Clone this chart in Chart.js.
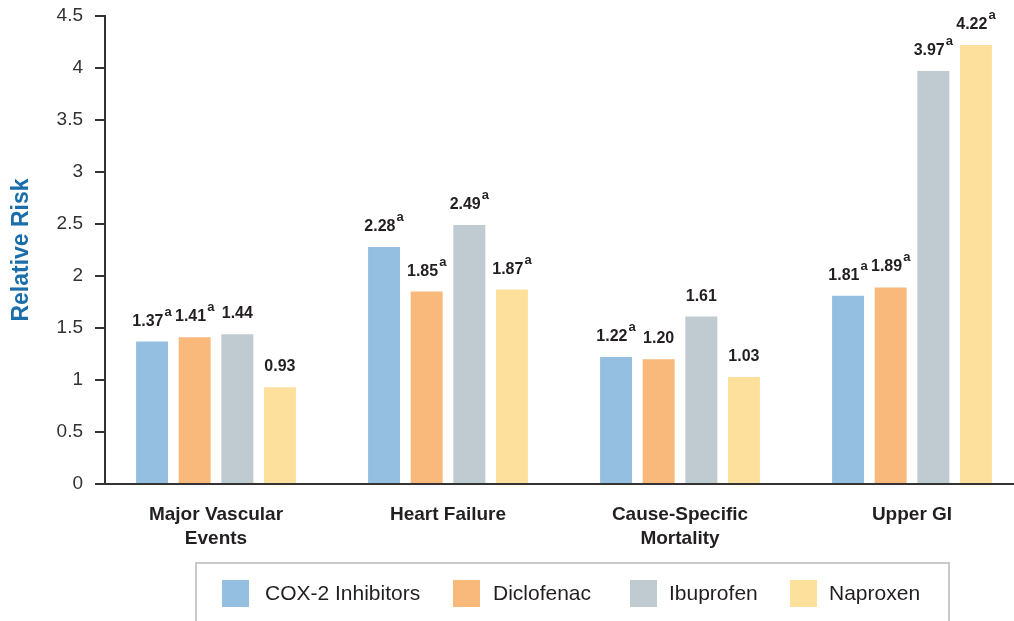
<!DOCTYPE html>
<html>
<head>
<meta charset="utf-8">
<script src="https://cdn.jsdelivr.net/npm/chart.js@4/dist/chart.umd.min.js"></script>
<style>
  html, body { margin: 0; padding: 0; background: #fff; overflow: hidden; }
  #wrap { width: 1030px; height: 621px; }
</style>
</head>
<body>
<div id="wrap"><canvas id="c" width="1030" height="621"></canvas></div>
<script>
const categories = [["Major Vascular", "Events"], "Heart Failure", ["Cause-Specific", "Mortality"], "Upper GI"];
const seriesNames = ["COX-2 Inhibitors", "Diclofenac", "Ibuprofen", "Naproxen"];
const cox2 = [1.37, 2.28, 1.22, 1.81];
const diclofenac = [1.41, 1.85, 1.20, 1.89];
const ibuprofen = [1.44, 2.49, 1.61, 3.97];
const naproxen = [0.93, 1.87, 1.03, 4.22];
const cox2Sig = [true, true, true, true];
const diclofenacSig = [true, true, false, true];
const ibuprofenSig = [false, true, false, true];
const naproxenSig = [false, true, false, true];
const yTicks = [0, 0.5, 1, 1.5, 2, 2.5, 3, 3.5, 4, 4.5];
const colors = ["#95bfe0", "#f9b97b", "#bfcad1", "#fee09d"];

const FONT = "'Liberation Sans', Arial, sans-serif";
const seriesValues = [cox2, diclofenac, ibuprofen, naproxen];
const seriesSig = [cox2Sig, diclofenacSig, ibuprofenSig, naproxenSig];

const shiftPlugin = {
  id: 'categoryStart',
  afterLayout(chart) {
    const x = chart.scales.x;
    const end = x._startPixel + x._length;
    x._startPixel = 100;
    x._length = end - 100;
  }
};

const labelPlugin = {
  id: 'valueLabels',
  afterDatasetsDraw(chart) {
    const ctx = chart.ctx;
    ctx.save();
    chart.data.datasets.forEach((ds, di) => {
      const meta = chart.getDatasetMeta(di);
      meta.data.forEach((bar, i) => {
        const txt = ds.data[i].toFixed(2);
        const sig = seriesSig[di][i];
        ctx.font = "bold 16px " + FONT;
        const w1 = ctx.measureText(txt).width;
        ctx.font = "bold 13px " + FONT;
        const w2 = sig ? ctx.measureText('a').width + 1 : 0;
        const total = w1 + w2;
        const x0 = bar.x - total / 2;
        const yb = bar.y - 16;
        ctx.fillStyle = '#231f20';
        ctx.textAlign = 'left';
        ctx.textBaseline = 'alphabetic';
        ctx.font = "bold 16px " + FONT;
        ctx.fillText(txt, x0, yb);
        if (sig) {
          ctx.font = "bold 13px " + FONT;
          ctx.fillText('a', x0 + w1 + 1, yb - 10);
        }
      });
    });
    ctx.restore();
  }
};

const legendPlugin = {
  id: 'boxLegend',
  afterDraw(chart) {
    const ctx = chart.ctx;
    ctx.save();
    ctx.strokeStyle = '#c9c9c9';
    ctx.lineWidth = 2;
    ctx.strokeRect(196, 563, 753, 80);
    const swX = [222, 453, 630, 790];
    const txX = [265, 493, 669, 829];
    ctx.font = "21px " + FONT;
    ctx.textBaseline = 'middle';
    ctx.textAlign = 'left';
    chart.data.datasets.forEach((ds, i) => {
      ctx.fillStyle = ds.backgroundColor;
      ctx.fillRect(swX[i], 580, 27, 27);
      ctx.fillStyle = '#231f20';
      ctx.fillText(ds.label, txX[i], 594);
    });
    ctx.restore();
  }
};

new Chart(document.getElementById('c'), {
  type: 'bar',
  data: {
    labels: categories,
    datasets: seriesNames.map((n, i) => ({
      label: n,
      data: seriesValues[i],
      backgroundColor: colors[i],
      borderWidth: 0,
      barPercentage: 0.75,
      categoryPercentage: 0.735
    }))
  },
  options: {
    responsive: false,
    animation: false,
    layout: { padding: { top: 16, left: 0, right: 2, bottom: 0 } },
    plugins: { legend: { display: false }, tooltip: { enabled: false } },
    scales: {
      x: {
        grid: { display: false, drawTicks: false },
        border: { display: true, color: '#333', width: 2 },
        ticks: { color: '#231f20', font: { family: FONT, size: 19, weight: 'bold', lineHeight: 1.25 }, padding: 19, maxRotation: 0, autoSkip: false },
        afterFit(scale) { scale.height = 137; }
      },
      y: {
        min: 0, max: 4.5,
        afterBuildTicks(scale) { scale.ticks = yTicks.map(v => ({ value: v })); },
        grid: { display: true, drawOnChartArea: false, drawTicks: true, tickLength: 10, color: '#333', lineWidth: 2 },
        border: { display: true, color: '#333', width: 2 },
        ticks: { color: '#333', font: { family: FONT, size: 19 }, padding: 12, callback: v => String(v) },
        title: { display: true, text: 'Relative Risk', color: '#1a6eaa', font: { family: FONT, size: 23, weight: 'bold' }, padding: { top: 8, bottom: 0 } },
        afterFit(scale) { scale.width = 105; scale.paddingTop = 10; scale.paddingBottom = 10; }
      }
    }
  },
  plugins: [shiftPlugin, labelPlugin, legendPlugin]
});
</script>
</body>
</html>
